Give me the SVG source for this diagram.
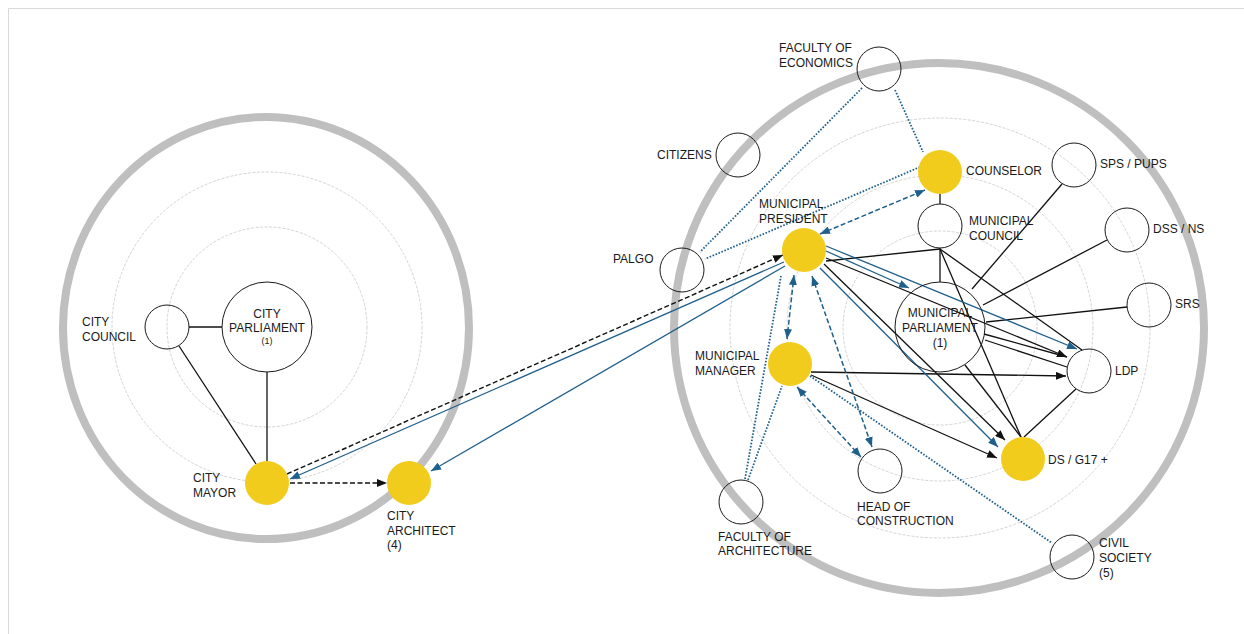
<svg xmlns="http://www.w3.org/2000/svg" width="1244" height="634" viewBox="0 0 1244 634">
  <style>
    text { font-family: "Liberation Sans", Arial, sans-serif; font-size: 12px; fill: #1a1a1a; }
    .small { font-size: 9px; }
    .frame { stroke: #d9d9d9; stroke-width: 1; }
    .ring { fill: none; stroke: #bfbfbf; stroke-width: 8; }
    .orbit { fill: none; stroke: #c8c8c8; stroke-width: 0.8; stroke-dasharray: 3 1.5; }
    .node { fill: none; stroke: #1a1a1a; stroke-width: 1; }
    .key { fill: #f2cc1c; stroke: none; }
    .tie { fill: none; stroke: #111; stroke-width: 1.3; }
    .tie-dash { fill: none; stroke: #111; stroke-width: 1.4; stroke-dasharray: 5 2.5; }
    .flow { fill: none; stroke: #1e5f8c; stroke-width: 1.3; }
    .flow-dash { fill: none; stroke: #1e5f8c; stroke-width: 1.5; stroke-dasharray: 5 2.5; }
    .link-dot { fill: none; stroke: #1e5f8c; stroke-width: 1.8; stroke-dasharray: 1.6 1.6; }
  </style>
  <defs>
    <marker id="ah-black" markerUnits="userSpaceOnUse" markerWidth="11" markerHeight="8" refX="10" refY="4" orient="auto-start-reverse">
      <path d="M0,0 L10,4 L0,8 z" fill="#111"/>
    </marker>
    <marker id="ah-blue" markerUnits="userSpaceOnUse" markerWidth="11" markerHeight="8" refX="10" refY="4" orient="auto-start-reverse">
      <path d="M0,0 L10,4 L0,8 z" fill="#1e5f8c"/>
    </marker>
  </defs>

  <rect x="0" y="0" width="1244" height="634" fill="#ffffff"/>
  <line class="frame" x1="8.5" y1="8.5" x2="1244" y2="8.5"/>
  <line class="frame" x1="8.5" y1="8.5" x2="8.5" y2="634"/>

  <!-- city level rings -->
  <g id="city-rings">
    <ellipse class="ring" cx="266" cy="328" rx="203" ry="211"/>
    <circle class="orbit" cx="267" cy="327" r="155"/>
    <circle class="orbit" cx="267" cy="327" r="100"/>
  </g>

  <!-- municipal level rings -->
  <g id="municipal-rings">
    <circle class="ring" cx="939" cy="328" r="265"/>
    <circle class="orbit" cx="940" cy="328" r="210"/>
    <circle class="orbit" cx="940" cy="328" r="153"/>
    <circle class="orbit" cx="940" cy="328" r="97"/>
  </g>

  <g id="connectors">
    <!-- city level -->
    <line class="tie" x1="189" y1="327" x2="222" y2="327"/>
    <line class="tie" x1="267" y1="372" x2="267" y2="461"/>
    <line class="tie" x1="179" y1="346" x2="256" y2="464"/>
    <line class="tie-dash" x1="290" y1="483" x2="387" y2="483" marker-end="url(#ah-black)"/>

    <!-- between levels -->
    <line class="tie-dash" x1="287" y1="474" x2="783" y2="255" marker-end="url(#ah-black)"/>
    <line class="flow" x1="784" y1="262" x2="290" y2="479" marker-end="url(#ah-blue)"/>
    <line class="flow" x1="785" y1="266" x2="431" y2="471" marker-end="url(#ah-blue)"/>

    <!-- municipal level: plain ties -->
    <line class="tie" x1="940" y1="194" x2="940" y2="204"/>
    <line class="tie" x1="940" y1="248" x2="940" y2="282"/>
    <line class="tie" x1="826" y1="261" x2="940" y2="249"/>
    <line class="tie" x1="940" y1="249" x2="1082" y2="350"/>
    <line class="tie" x1="940" y1="249" x2="1021" y2="437"/>
    <line class="tie" x1="965" y1="365" x2="1021" y2="437"/>
    <line class="tie" x1="1076" y1="389" x2="1024" y2="437"/>
    <line class="tie" x1="1062" y1="184" x2="972" y2="289"/>
    <line class="tie" x1="1107" y1="240" x2="983" y2="305"/>
    <line class="tie" x1="1127" y1="307" x2="986" y2="322"/>
    <line class="tie" x1="985" y1="340" x2="1067" y2="367"/>
    <line class="tie" x1="984" y1="334" x2="1067" y2="357"/>

    <!-- municipal level: directed ties -->
    <line class="tie" x1="826" y1="258" x2="1067" y2="357" marker-end="url(#ah-black)"/>
    <line class="tie" x1="824" y1="264" x2="1005" y2="440" marker-end="url(#ah-black)"/>
    <line class="tie" x1="811" y1="372" x2="1066" y2="376" marker-end="url(#ah-black)"/>
    <line class="tie" x1="811" y1="375" x2="997" y2="458" marker-end="url(#ah-black)"/>

    <!-- municipal level: blue flows -->
    <line class="flow" x1="826" y1="246" x2="1077" y2="349" marker-end="url(#ah-blue)"/>
    <line class="flow" x1="826" y1="251" x2="909" y2="288" marker-end="url(#ah-blue)"/>
    <line class="flow" x1="820" y1="268" x2="998" y2="447" marker-end="url(#ah-blue)"/>

    <!-- two-way consultations -->
    <line class="flow-dash" x1="820" y1="234" x2="925" y2="190" marker-start="url(#ah-blue)" marker-end="url(#ah-blue)"/>
    <line class="flow-dash" x1="794" y1="275" x2="787" y2="339" marker-start="url(#ah-blue)" marker-end="url(#ah-blue)"/>
    <line class="flow-dash" x1="812" y1="276" x2="872" y2="447" marker-start="url(#ah-blue)" marker-end="url(#ah-blue)"/>
    <line class="flow-dash" x1="797" y1="387" x2="861" y2="457" marker-start="url(#ah-blue)" marker-end="url(#ah-blue)"/>

    <!-- informal links -->
    <line class="link-dot" x1="862" y1="88" x2="700" y2="252"/>
    <line class="link-dot" x1="895" y1="90" x2="923" y2="152"/>
    <line class="link-dot" x1="920" y1="167" x2="705" y2="259"/>
    <line class="link-dot" x1="745" y1="479" x2="781" y2="276"/>
    <line class="link-dot" x1="748" y1="480" x2="782" y2="386"/>
    <line class="link-dot" x1="810" y1="376" x2="1052" y2="543"/>
  </g>

  <!-- city level nodes -->
  <g id="city-council">
    <circle class="node" cx="167" cy="327" r="22"/>
    <text x="82" y="326">CITY</text>
    <text x="82" y="341">COUNCIL</text>
  </g>
  <g id="city-parliament">
    <circle class="node" cx="267" cy="327" r="45"/>
    <text x="267" y="318" text-anchor="middle">CITY</text>
    <text x="267" y="332" text-anchor="middle">PARLIAMENT</text>
    <text class="small" x="267" y="344" text-anchor="middle">(1)</text>
  </g>
  <g id="city-mayor">
    <circle class="key" cx="267" cy="483" r="22"/>
    <text x="193" y="482">CITY</text>
    <text x="193" y="497">MAYOR</text>
  </g>
  <g id="city-architect">
    <circle class="key" cx="409" cy="483" r="22"/>
    <text x="387" y="520">CITY</text>
    <text x="387" y="535">ARCHITECT</text>
    <text x="387" y="549">(4)</text>
  </g>

  <!-- municipal level nodes -->
  <g id="faculty-economics">
    <circle class="node" cx="879" cy="69" r="22"/>
    <text x="779" y="52">FACULTY OF</text>
    <text x="779" y="67">ECONOMICS</text>
  </g>
  <g id="citizens">
    <circle class="node" cx="738" cy="155" r="22"/>
    <text x="657" y="159">CITIZENS</text>
  </g>
  <g id="palgo">
    <circle class="node" cx="682" cy="270" r="22"/>
    <text x="613" y="263">PALGO</text>
  </g>
  <g id="municipal-president">
    <circle class="key" cx="804" cy="250" r="22"/>
    <text x="759" y="208">MUNICIPAL</text>
    <text x="759" y="223">PRESIDENT</text>
  </g>
  <g id="counselor">
    <circle class="key" cx="940" cy="172" r="22"/>
    <text x="966" y="175">COUNSELOR</text>
  </g>
  <g id="municipal-council">
    <circle class="node" cx="940" cy="226" r="22"/>
    <text x="969" y="225">MUNICIPAL</text>
    <text x="969" y="240">COUNCIL</text>
  </g>
  <g id="municipal-parliament">
    <circle class="node" cx="940" cy="327" r="45"/>
    <text x="940" y="317" text-anchor="middle">MUNICIPAL</text>
    <text x="940" y="332" text-anchor="middle">PARLIAMENT</text>
    <text x="940" y="347" text-anchor="middle">(1)</text>
  </g>
  <g id="sps-pups">
    <circle class="node" cx="1074" cy="165" r="22"/>
    <text x="1100" y="168">SPS / PUPS</text>
  </g>
  <g id="dss-ns">
    <circle class="node" cx="1127" cy="230" r="22"/>
    <text x="1153" y="233">DSS / NS</text>
  </g>
  <g id="srs">
    <circle class="node" cx="1149" cy="305" r="22"/>
    <text x="1175" y="308">SRS</text>
  </g>
  <g id="ldp">
    <circle class="node" cx="1089" cy="371" r="22"/>
    <text x="1115" y="375">LDP</text>
  </g>
  <g id="ds-g17">
    <circle class="key" cx="1023" cy="459" r="22"/>
    <text x="1048" y="464">DS / G17 +</text>
  </g>
  <g id="municipal-manager">
    <circle class="key" cx="790" cy="364" r="22"/>
    <text x="695" y="360">MUNICIPAL</text>
    <text x="695" y="375">MANAGER</text>
  </g>
  <g id="head-construction">
    <circle class="node" cx="880" cy="471" r="22"/>
    <text x="857" y="511">HEAD OF</text>
    <text x="857" y="525">CONSTRUCTION</text>
  </g>
  <g id="faculty-architecture">
    <circle class="node" cx="741" cy="502" r="22"/>
    <text x="718" y="541">FACULTY OF</text>
    <text x="718" y="555">ARCHITECTURE</text>
  </g>
  <g id="civil-society">
    <circle class="node" cx="1072" cy="557" r="22"/>
    <text x="1099" y="547">CIVIL</text>
    <text x="1099" y="562">SOCIETY</text>
    <text x="1099" y="577">(5)</text>
  </g>
</svg>
